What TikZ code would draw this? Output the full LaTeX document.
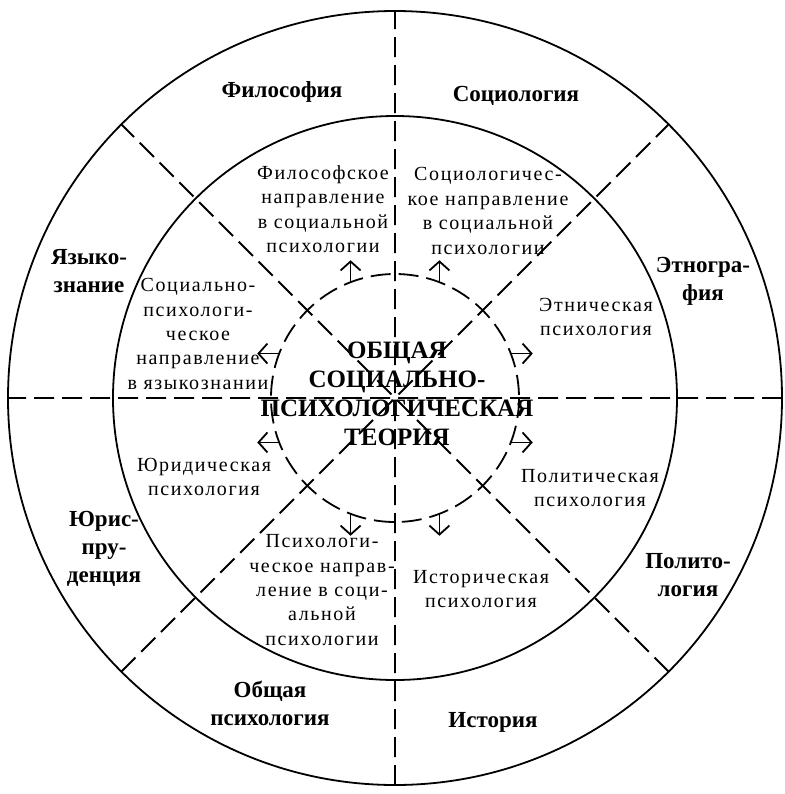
\documentclass[tikz,border=0pt]{standalone}
\usepackage{fontspec}
\setmainfont{Liberation Serif}
\usepackage{tikz}
\usetikzlibrary{arrows.meta}

\begin{document}
\begin{tikzpicture}[x=0.5pt, y=-0.5pt, line width=0.9pt,
	ring/.style={draw},
	cut/.style={draw, dash pattern=on 10pt off 4pt},
	spread/.style={draw, -{Straight Barb[length=4.5pt,width=10pt]}},
	field/.style={align=center, font=\bfseries\fontsize{11.5}{14}\selectfont},
	branch/.style={align=center, font=\fontsize{10}{12.2}\selectfont\addfontfeature{LetterSpace=8}},
	core/.style={align=center, font=\bfseries\fontsize{12.5}{14.5}\selectfont}]
		\useasboundingbox (0,0) rectangle (785,794);
		\coordinate (o) at (395,398);

		\draw[ring] (o) circle[radius=387]
		(o) circle[radius=282];
		\draw[cut] (o) circle[radius=124];

		\draw[cut] ([shift={(0:387)}]o) -- ([shift={(180:387)}]o)
		([shift={(90:387)}]o) -- ([shift={(270:387)}]o)
		([shift={(45:387)}]o) -- ([shift={(225:387)}]o)
		([shift={(135:387)}]o) -- ([shift={(315:387)}]o);

		\foreach \a/\d in {-21/0, 21/0, 69/90, 111/90, 159/180, 201/180, 249/270, 291/270}
			\draw[spread] ([shift={(\a:124)}]o) -- ++(\d:22);

		\path (282,92) node[field] (fil) {Философия}
		(516,96) node[field] (soc) {Социология}
		(703,281) node[field] (eth) {Этногра-\\фия}
		(688,575) node[field] (pol) {Полито-\\логия}
		(493,722) node[field] (his) {История}
		(270,703) node[field] (gen) {Общая\\психология}
		(104,549) node[field] (jur) {Юрис-\\пру-\\денция}
		(89,271) node[field] (lng) {Языко-\\знание};

		\path (323,209) node[branch] (filDir) {Философское\\направление\\в социальной\\психологии}
		(488,211) node[branch] (socDir) {Социологичес-\\кое направление\\в социальной\\психологии}
		(596,317) node[branch] (ethDir) {Этническая\\психология}
		(590,488) node[branch] (polDir) {Политическая\\психология}
		(481,589) node[branch] (hisDir) {Историческая\\психология}
		(322,590) node[branch] (genDir) {Психологи-\\ческое направ-\\ление в соци-\\альной\\психологии}
		(204,477) node[branch] (jurDir) {Юридическая\\психология}
		(198,334) node[branch] (lngDir) {Социально-\\психологи-\\ческое\\направление\\в языкознании};

		\path (397,394) node[core] (theory) {ОБЩАЯ\\СОЦИАЛЬНО-\\ПСИХОЛОГИЧЕСКАЯ\\ТЕОРИЯ};

	\end{tikzpicture}
\end{document}
